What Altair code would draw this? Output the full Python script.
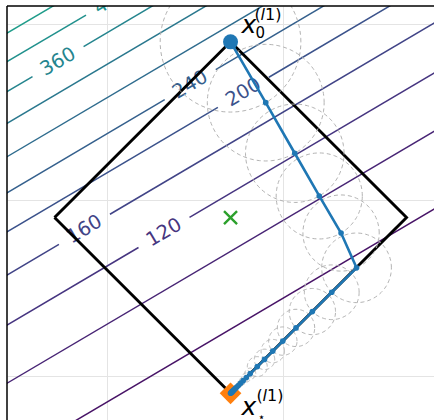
import numpy as np
import pandas as pd
import altair as alt

# Visible window in data units
X_MIN, X_MAX = -0.570, 1.856
Y_MIN, Y_MAX = -0.252, 2.104
PLOT_W, PLOT_H = 427, 414

# Objective contours: straight traces y = y_at_x0 + slope * x
levels = [40, 80, 120, 160, 200, 240, 280, 320, 360, 400, 440]
level_y_at_x0 = [-0.149, 0.294, 0.625, 0.910, 1.156, 1.378, 1.583, 1.773, 1.953, 2.124, 2.286]
level_slope = 0.591

# Inline contour labels
label_levels = [120, 160, 200, 240, 360, 400]
label_x = [0.322, -0.130, 0.773, 0.471, -0.280, 0.024]
label_gap = 0.145

# l1 ball (diamond) and its centre
ball_x = [-0.30, 0.70, 1.70, 0.70, -0.30]
ball_y = [0.90, 1.90, 0.90, -0.10, 0.90]
center_x, center_y = [0.70], [0.90]

# Iterates of the method, from x0 down to the solution
iter_x = [0.700, 0.900, 1.065, 1.204, 1.328, 1.416, 1.275, 1.165, 1.072, 0.997,
          0.940, 0.893, 0.852, 0.812, 0.790, 0.772, 0.758, 0.746, 0.737, 0.729,
          0.723, 0.718, 0.714, 0.711, 0.709, 0.707, 0.705, 0.704, 0.700]
iter_y = [1.900, 1.554, 1.266, 1.023, 0.812, 0.614, 0.475, 0.365, 0.272, 0.197,
          0.140, 0.093, 0.052, 0.012, -0.010, -0.028, -0.042, -0.054, -0.063, -0.071,
          -0.077, -0.082, -0.086, -0.089, -0.091, -0.093, -0.095, -0.096, -0.100]
x_star = ([0.70], [-0.10])

# ---- tables -------------------------------------------------------------
def line_y(y0, x):
    return y0 + level_slope * x

seg_rows = []
for lev, y0 in zip(levels, level_y_at_x0):
    pieces = [(X_MIN - 0.2, X_MAX + 0.2)]
    if lev in label_levels:
        lx = label_x[label_levels.index(lev)]
        pieces = [(X_MIN - 0.2, lx - label_gap), (lx + label_gap, X_MAX + 0.2)]
    for a, b in pieces:
        seg_rows.append({"level": lev, "x": a, "y": line_y(y0, a),
                         "x2": b, "y2": line_y(y0, b)})
contours = pd.DataFrame(seg_rows)

labels = pd.DataFrame({
    "level": label_levels,
    "x": label_x,
    "y": [line_y(level_y_at_x0[levels.index(l)], x) for l, x in zip(label_levels, label_x)],
    "text": [str(l) for l in label_levels],
})

ball = pd.DataFrame({"x": ball_x, "y": ball_y, "o": range(len(ball_x))})

path = pd.DataFrame({"x": iter_x, "y": iter_y, "o": range(len(iter_x))})

# Dashed circles around each iterate, radius = length of the step taken from it
circ_rows = []
theta = np.linspace(0, 2 * np.pi, 121)
for k in range(len(iter_x) - 1):
    r = np.hypot(iter_x[k + 1] - iter_x[k], iter_y[k + 1] - iter_y[k])
    for j, t in enumerate(theta):
        circ_rows.append({"c": k, "o": j,
                          "x": iter_x[k] + r * np.cos(t),
                          "y": iter_y[k] + r * np.sin(t)})
circles = pd.DataFrame(circ_rows)

start = pd.DataFrame({"x": iter_x[:1], "y": iter_y[:1]})
star = pd.DataFrame({"x": x_star[0], "y": x_star[1]})
center = pd.DataFrame({"x": center_x, "y": center_y})
dummy = pd.DataFrame({"a": [0]})

# ---- encodings ----------------------------------------------------------
xs = alt.Scale(domain=[X_MIN, X_MAX], nice=False, zero=False)
ys = alt.Scale(domain=[Y_MIN, Y_MAX], nice=False, zero=False)
ax_x = alt.Axis(values=[0, 1], grid=True, labels=False, ticks=False, domain=False,
                title=None, gridColor="#e4e4e4", gridWidth=1)
ax_y = alt.Axis(values=[0, 1, 2], grid=True, labels=False, ticks=False, domain=False,
                title=None, gridColor="#e4e4e4", gridWidth=1)

def X(f="x"):
    return alt.X(f"{f}:Q", scale=xs, axis=ax_x)

def Y(f="y"):
    return alt.Y(f"{f}:Q", scale=ys, axis=ax_y)

lev_color = alt.Color("level:Q", scale=alt.Scale(scheme="viridis", domain=[0, 800]), legend=None)

contour_layer = alt.Chart(contours).mark_rule(strokeWidth=1.5, clip=True).encode(
    x=X(), y=Y(), x2="x2:Q", y2="y2:Q", color=lev_color)

label_layer = alt.Chart(labels).mark_text(
    font="DejaVu Sans", fontSize=19.5, angle=329.5, align="center", baseline="middle", clip=True
).encode(x=X(), y=Y(), text="text:N", color=lev_color)

ball_layer = alt.Chart(ball).mark_line(color="black", strokeWidth=2.9, strokeJoin="miter", clip=True).encode(
    x=X(), y=Y(), order="o:Q")

circle_layer = alt.Chart(circles).mark_line(
    color="#b3b3b3", strokeWidth=1, strokeDash=[4, 3], clip=True
).encode(x=X(), y=Y(), detail="c:N", order="o:Q")

star_layer = alt.Chart(star).mark_point(
    shape="diamond", filled=True, color="#ff7f0e", size=470, opacity=1
).encode(x=X(), y=Y())

path_layer = alt.Chart(path).mark_line(color="#1f77b4", strokeWidth=2.6, strokeCap="round").encode(
    x=X(), y=Y(), order="o:Q")

dots_layer = alt.Chart(path).mark_point(filled=True, color="#1f77b4", size=32, opacity=1).encode(
    x=X(), y=Y())

start_layer = alt.Chart(start).mark_point(filled=True, color="#1f77b4", size=225, opacity=1).encode(
    x=X(), y=Y())

center_layer = alt.Chart(center).mark_point(
    shape="M -1 -1 L 1 1 M -1 1 L 1 -1", filled=False, color="#2ca02c", strokeWidth=2.4, size=170, opacity=1
).encode(x=X(), y=Y())


def annot(df, text, dx, dy, size, italic=False, align="left", baseline="alphabetic"):
    return alt.Chart(df).mark_text(
        text=text, font="DejaVu Sans", fontSize=size, fontStyle="italic" if italic else "normal",
        align=align, baseline=baseline, dx=dx, dy=dy, color="black"
    ).encode(x=X(), y=Y())


x0_label = [
    annot(start, "x", 11, -9, 25, italic=True),
    annot(start, "0", 25, -3.5, 15),
    annot(start, "(", 24, -22, 16),
    annot(start, "l", 30, -22, 16, italic=True),
    annot(start, "1)", 34.5, -22, 16),
]
xs_label = [
    annot(star, "x", 11, 21.5, 25, italic=True),
    annot(star, "⋆", 31, 24, 12, align="center", baseline="middle"),
    annot(star, "(", 26, 8, 16),
    annot(star, "l", 32, 8, 16, italic=True),
    annot(star, "1)", 36.5, 8, 16),
]

frame_left = alt.Chart(dummy).mark_rule(color="black", strokeWidth=1.5).encode(
    x=alt.value(0), y=alt.value(0), y2=alt.value(PLOT_H))
frame_top = alt.Chart(dummy).mark_rule(color="black", strokeWidth=1.5).encode(
    x=alt.value(0), x2=alt.value(PLOT_W), y=alt.value(0))

chart = alt.layer(
    contour_layer, label_layer, ball_layer, circle_layer, star_layer,
    path_layer, dots_layer, start_layer, center_layer,
    *x0_label, *xs_label, frame_left, frame_top,
).properties(
    width=PLOT_W, height=PLOT_H,
    autosize=alt.AutoSizeParams(type="none"),
    padding={"left": 7, "top": 6, "right": 0, "bottom": 0},
    background="white",
).configure_view(stroke=None)

chart.save("out.html", embed_options={"renderer": "svg", "actions": False})
